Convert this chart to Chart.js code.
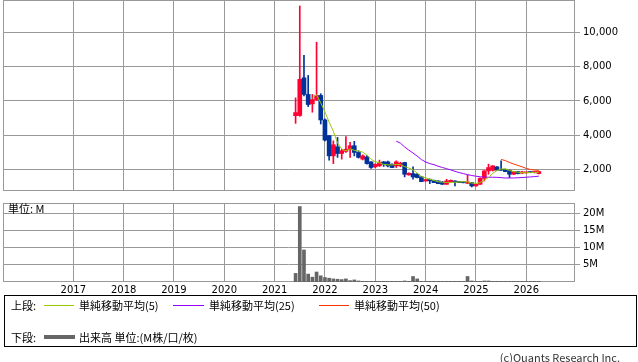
<!DOCTYPE html>
<html>
<head>
<meta charset="utf-8">
<script src="https://cdn.jsdelivr.net/npm/chart.js@4"></script>
<style>
  body { margin: 0; width: 638px; height: 362px; background: #fff; position: relative; overflow: hidden;
         font-family: "Noto Sans CJK JP", "DejaVu Sans", sans-serif; color: #000; }
  canvas { position: absolute; left: 0; }
  #price { top: 0; }
  #vol { top: 200px; }
  .unit { position: absolute; left: 8px; top: 202px; font-size: 11px; line-height: 12px; }
  .legend { position: absolute; left: 4px; top: 295px; width: 631px; height: 50px; border: 1px solid #000; font-size: 11px; }
  .row { position: absolute; left: 6px; height: 14px; line-height: 14px; white-space: nowrap; }
  .row span { position: absolute; top: 0; }
  .swatch { position: absolute; height: 0; }
  .copy { position: absolute; right: 18px; top: 350px; font-size: 11px; line-height: 14px; color: #333; }
</style>
</head>
<body>
<canvas id="price" width="638" height="190"></canvas>
<canvas id="vol" width="638" height="97"></canvas>
<div class="unit">単位: M</div>
<div class="legend">
  <div class="row" style="top:2px">
    <span style="left:0">上段:</span>
    <div class="swatch" style="left:33px;top:7px;width:30px;border-top:1px solid #99cc00"></div>
    <span style="left:68px">単純移動平均(5)</span>
    <div class="swatch" style="left:162px;top:7px;width:31px;border-top:1px solid #9900ff"></div>
    <span style="left:198px">単純移動平均(25)</span>
    <div class="swatch" style="left:308px;top:7px;width:30px;border-top:1px solid #ff3300"></div>
    <span style="left:343px">単純移動平均(50)</span>
  </div>
  <div class="row" style="top:34px">
    <span style="left:0">下段:</span>
    <div class="swatch" style="left:33px;top:5px;width:31px;border-top:4px solid #666"></div>
    <span style="left:68px">出来高 単位:(M株/口/枚)</span>
  </div>
</div>
<div class="copy">(c)Quants Research Inc.</div>

<script>
// monthly bars, Jun 2021 - Apr 2026 (one row per year)
const months = [
  '2021-06','2021-07','2021-08','2021-09','2021-10','2021-11','2021-12',
  '2022-01','2022-02','2022-03','2022-04','2022-05','2022-06','2022-07','2022-08','2022-09','2022-10','2022-11','2022-12',
  '2023-01','2023-02','2023-03','2023-04','2023-05','2023-06','2023-07','2023-08','2023-09','2023-10','2023-11','2023-12',
  '2024-01','2024-02','2024-03','2024-04','2024-05','2024-06','2024-07','2024-08','2024-09','2024-10','2024-11','2024-12',
  '2025-01','2025-02','2025-03','2025-04','2025-05','2025-06','2025-07','2025-08','2025-09','2025-10','2025-11','2025-12',
  '2026-01','2026-02','2026-03','2026-04'
];
const opens = [
  5140, 5150, 7350, 6380, 5830, 6080, 6320,
  4890, 3970, 2790, 3320, 2930, 3050, 3150, 3380, 2990, 2600, 2730, 2440,
  2150, 2210, 2440, 2440, 2300, 2206, 2206, 2400, 1677, 1755, 1716, 1560,
  1325, 1423, 1364, 1325, 1266, 1130, 1266, 1325, 1266, 1250, 1187, 1227,
  1031, 1130, 1480, 1912, 1950, 2147, 2010, 2010, 1951, 1716, 1873, 1780,
  1800, 1873, 1820, 1755
];
const highs = [
  6180, 11550, 8670, 7490, 6380, 9430, 6420,
  4950, 3970, 3670, 3870, 3180, 3910, 3580, 3640, 3090, 2850, 2800, 2460,
  2320, 2540, 2460, 2480, 2320, 2500, 2420, 2420, 1800, 2147, 1760, 1600,
  1420, 1440, 1380, 1340, 1290, 1423, 1380, 1330, 1280, 1260, 1677, 1240,
  1140, 1500, 1930, 2304, 2220, 2160, 2500, 2020, 1960, 1880, 1880, 1880,
  1840, 1880, 1840, 1890
];
const lows = [
  4690, 5100, 6300, 5670, 5340, 6020, 4650,
  3670, 2540, 2340, 2700, 2600, 2990, 2700, 2790, 2660, 2550, 2300, 2050,
  2100, 2170, 2170, 2150, 2100, 2108, 2150, 1560, 1660, 1423, 1500, 1280,
  1300, 1168, 1220, 1160, 1120, 1120, 1250, 1031, 1220, 1210, 1170, 972,
  1020, 1120, 1320, 1716, 1900, 1940, 1940, 1860, 1520, 1700, 1740, 1760,
  1780, 1800, 1790, 1740
];
const closes = [
  5320, 7260, 6380, 5790, 6080, 6320, 4890,
  3710, 2790, 3440, 2930, 3090, 3180, 3380, 2990, 2700, 2790, 2340, 2110,
  2300, 2400, 2300, 2200, 2108, 2440, 2362, 1716, 1775, 1560, 1520, 1285,
  1403, 1325, 1227, 1168, 1130, 1325, 1364, 1266, 1230, 1220, 1266, 1031,
  1130, 1481, 1910, 2108, 2206, 1951, 1951, 1873, 1716, 1873, 1755, 1850,
  1820, 1814, 1820, 1873
];
// volume in millions
const volumes = [
  2.5, 21.9, 9.3, 2.3, 1.4, 2.9, 1.8,
  1.3, 1.1, 0.9, 0.8, 0.7, 0.9, 0.4, 0.6, 0.3, 0.2, 0.2, 0.2,
  0.2, 0.2, 0.2, 0.2, 0.2, 0.2, 0.2, 0.3, 0.2, 1.6, 0.9, 0.2,
  0.2, 0.2, 0.2, 0.2, 0.2, 0.2, 0.2, 0.2, 0.2, 0.2, 1.6, 0.3,
  0.2, 0.2, 0.3, 0.3, 0.2, 0.2, 0.2, 0.2, 0.2, 0.2, 0.2, 0.2,
  0.2, 0.2, 0.2, 0.2
];
const yearTicks = [2017, 2018, 2019, 2020, 2021, 2022, 2023, 2024, 2025, 2026];
const priceTicks = [2000, 4000, 6000, 8000, 10000];
const volumeTicks = [5, 10, 15, 20];

const RED = '#ff0033', BLUE = '#003399', GRID = '#999999';

// months since Jan 2017
function monthX(s) {
  let [y, m] = s.split('-').map(Number);
  return (y - 2017) * 12 + (m - 1);
}
const xs = months.map(monthX);
const candleColors = months.map((m, i) => closes[i] >= opens[i] ? RED : BLUE);

function sma(n) {
  let pts = [];
  for (let i = n - 1; i < closes.length; i++) {
    let sum = 0;
    for (let k = i - n + 1; k <= i; k++) sum += closes[k];
    pts.push({ x: xs[i], y: sum / n });
  }
  return pts;
}

const frame = {
  id: 'frame',
  beforeDatasetsDraw(chart) {
    let a = chart.chartArea, ctx = chart.ctx;
    ctx.save();
    ctx.strokeStyle = GRID;
    ctx.lineWidth = 1;
    ctx.strokeRect(Math.round(a.left) + 0.5, Math.round(a.top) + 0.5,
      Math.round(a.right - a.left), Math.round(a.bottom - a.top) - 1);
    ctx.restore();
  }
};

function xAxis(showLabels) {
  return {
    type: 'linear', min: -16.76, max: 119.38, offset: false,
    afterBuildTicks: s => { s.ticks = yearTicks.map(y => ({ value: (y - 2017) * 12 })); },
    ticks: { display: showLabels, callback: v => 2017 + v / 12, color: '#000',
             font: { family: 'DejaVu Sans', size: 10 }, padding: 2, maxRotation: 0 },
    grid: { color: GRID, drawTicks: false, offset: false },
    border: { display: false },
    afterFit: s => { s.height = showLabels ? 16 : 0; }
  };
}

function rightAxis(min, max, ticks, fmt) {
  return {
    position: 'right', min: min, max: max,
    afterBuildTicks: s => { s.ticks = ticks.map(v => ({ value: v })); },
    ticks: { callback: fmt, color: '#000', font: { family: 'DejaVu Sans', size: 10 }, padding: 3 },
    grid: { color: GRID, tickLength: 6 },
    border: { display: false },
    afterFit: s => { s.width = 64; }
  };
}

// move/resize a canvas so its plot area lands on the given page rows
function fitArea(chart, top, bottom) {
  for (let k = 0; k < 4; k++) {
    let a = chart.chartArea;
    let h = Math.round(a.top + (bottom - top) + (chart.height - a.bottom));
    chart.canvas.style.top = Math.round(top - a.top) + 'px';
    if (h === chart.height) break;
    chart.resize(638, h);
  }
}

let priceChart = new Chart(document.getElementById('price'), {
  data: {
    datasets: [
      { type: 'line', label: 'SMA5', data: sma(5), borderColor: '#99cc00', borderWidth: 1, pointRadius: 0, order: 0 },
      { type: 'line', label: 'SMA25', data: sma(25), borderColor: '#9900ff', borderWidth: 1, pointRadius: 0, order: 0 },
      { type: 'line', label: 'SMA50', data: sma(50), borderColor: '#ff3300', borderWidth: 1, pointRadius: 0, order: 0 },
      { type: 'bar', label: 'body', data: xs.map((x, i) => ({ x: x, y: [opens[i], closes[i]] })),
        backgroundColor: candleColors, barThickness: 4, minBarLength: 1, grouped: false, order: 1 },
      { type: 'bar', label: 'wick', data: xs.map((x, i) => ({ x: x, y: [lows[i], highs[i]] })),
        backgroundColor: candleColors, barThickness: 1, grouped: false, order: 2 }
    ]
  },
  options: {
    responsive: false, maintainAspectRatio: false, animation: false, events: [],
    layout: { padding: { left: 3, top: 0, right: 0, bottom: 0 } },
    plugins: { legend: { display: false }, tooltip: { enabled: false } },
    scales: {
      x: xAxis(false),
      y: rightAxis(737, 11898, priceTicks, v => v.toLocaleString('en-US'))
    }
  },
  plugins: [frame]
});

let volChart = new Chart(document.getElementById('vol'), {
  type: 'bar',
  data: {
    datasets: [
      { label: 'volume', data: xs.map((x, i) => ({ x: x, y: volumes[i] })),
        backgroundColor: '#666666', barThickness: 3 }
    ]
  },
  options: {
    responsive: false, maintainAspectRatio: false, animation: false, events: [],
    layout: { padding: { left: 3, top: 0, right: 0, bottom: 0 } },
    plugins: { legend: { display: false }, tooltip: { enabled: false } },
    scales: {
      x: xAxis(true),
      y: rightAxis(0, 22.94, volumeTicks, v => v + 'M')
    }
  },
  plugins: [frame]
});

fitArea(priceChart, 0, 191);
fitArea(volChart, 203, 282);
</script>
</body>
</html>
